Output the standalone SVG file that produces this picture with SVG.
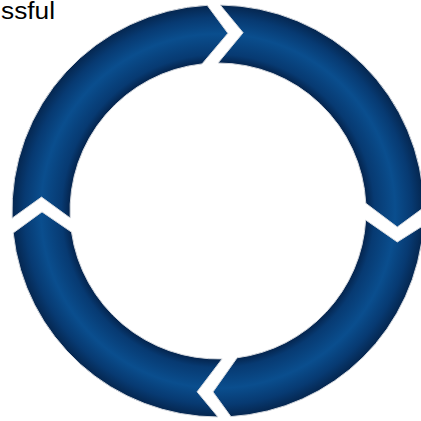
<svg xmlns="http://www.w3.org/2000/svg" width="421" height="421" viewBox="0 0 421 421">
<style>
.seg{fill:url(#ring);stroke:#d4d8de;stroke-width:1;stroke-linejoin:miter}
.lbl{font-family:"Liberation Sans",Arial,sans-serif;font-size:23px;fill:#000}
</style>
<defs>
<radialGradient id="ring" gradientUnits="userSpaceOnUse" cx="218" cy="211" r="206">
<stop offset="0.715" stop-color="#04224a"/>
<stop offset="0.76" stop-color="#073a72"/>
<stop offset="0.86" stop-color="#0a4e8e"/>
<stop offset="0.94" stop-color="#073a72"/>
<stop offset="1" stop-color="#05264f"/>
</radialGradient>
</defs>
<rect width="421" height="421" fill="#fff"/>
<text class="lbl" x="1" y="18.5" textLength="54" lengthAdjust="spacingAndGlyphs">ssful</text>
<g id="segment-top-right"><path class="seg" d="M220.2,5.0 A206,206 0 0 1 424.0,207.4 L397.3,227.0 L365.8,203.3 A148,148 0 0 0 218,63 L243.1,32.7 Z"/></g>
<g id="segment-bottom-right"><path class="seg" d="M423.5,225.4 A206,206 0 0 1 230.9,416.6 L213.0,391.9 L237.1,357.8 A148,148 0 0 0 365.7,220.0 L397.3,242.0 Z"/></g>
<g id="segment-bottom-left"><path class="seg" d="M218,417 A206,206 0 0 1 13.2,232.9 L42.0,211.9 L71.5,232.1 A148,148 0 0 0 222.1,358.9 L197.1,391.8 Z"/></g>
<g id="segment-top-left"><path class="seg" d="M12.1,218.2 A206,206 0 0 1 207.2,5.3 L227.9,33.3 L202.0,63.9 A148,148 0 0 0 70.2,218.0 L41.5,197.1 Z"/></g>
<g id="connectors"></g>
</svg>
